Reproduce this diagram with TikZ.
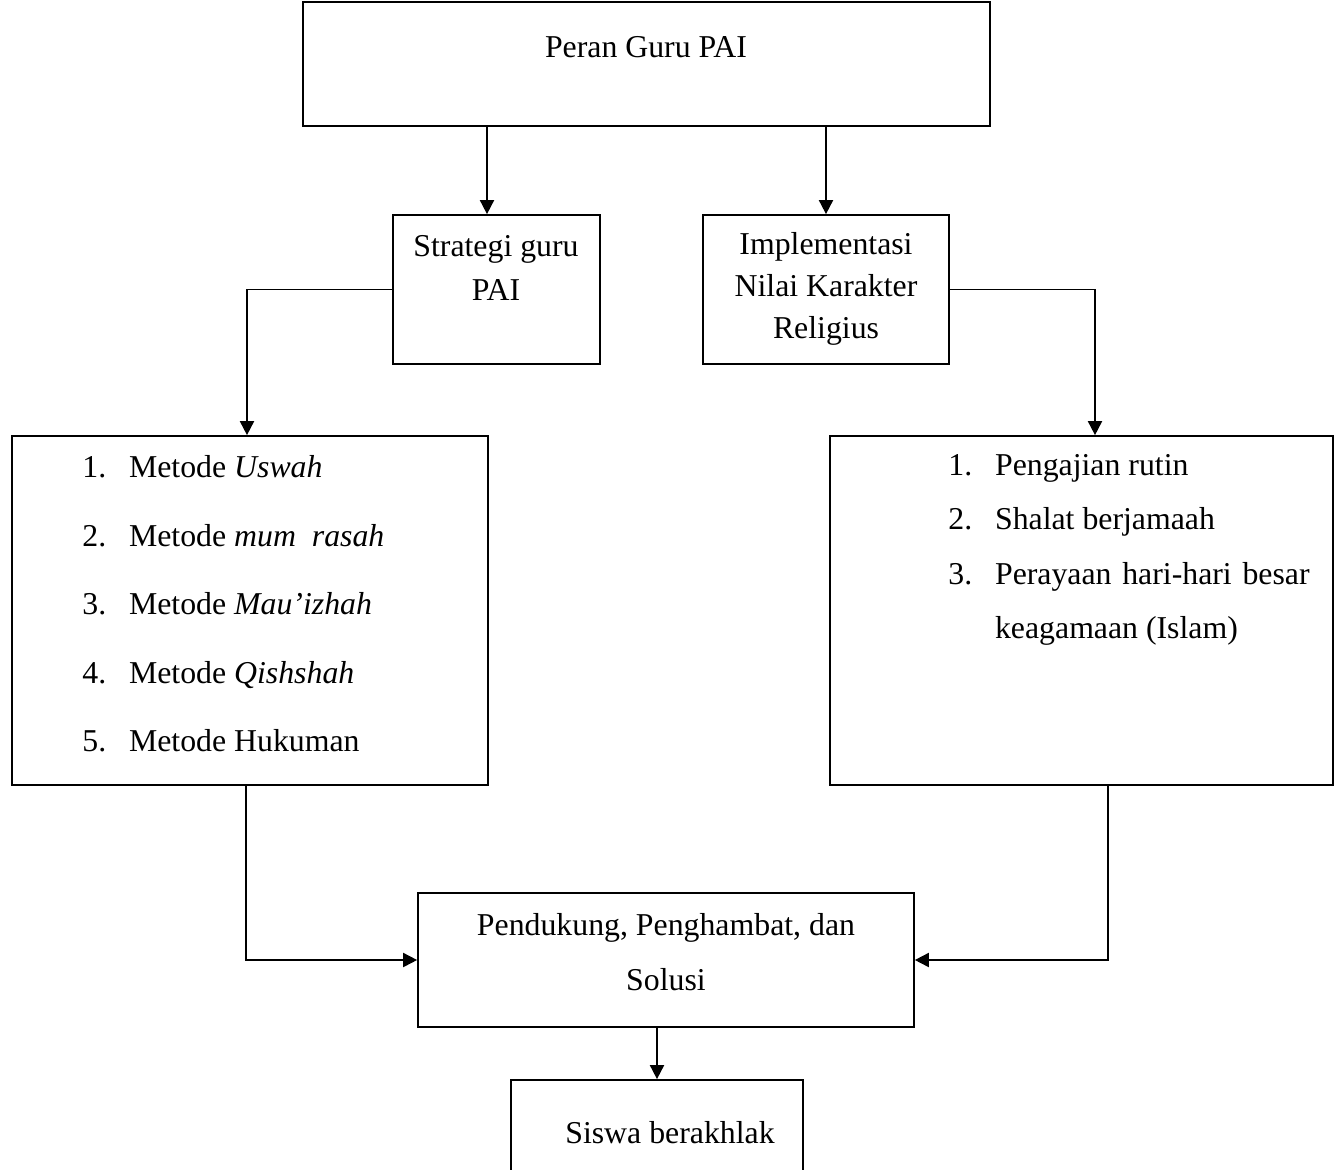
\documentclass[tikz,border=0pt]{standalone}
\usepackage{fontspec}
\setmainfont{Liberation Serif}
\usepackage{tikz}
\usetikzlibrary{arrows.meta,calc,positioning}

\begin{document}
\begin{tikzpicture}[x=0.02cm,y=-0.02cm,
	box/.style={draw,line width=1pt,inner sep=0pt},
	txt/.style={font=\fontsize{18.1}{#1}\selectfont,align=center,inner sep=0pt},
	arr/.style={line width=1pt,-{Triangle[length=8pt,width=8pt]}}]
	\clip (0,0) rectangle (1336,1170);
	\useasboundingbox (0,0) rectangle (1336,1170);
	% boxes
	\node[box,minimum width=13.74cm,minimum height=2.48cm] (peran) at (646.5,64) {};
	\node[box,minimum width=4.14cm,minimum height=2.98cm] (strat) at (496.5,289.5) {};
	\node[box,minimum width=4.92cm,minimum height=2.98cm] (impl) at (826,289.5) {};
	\node[box,minimum width=9.52cm,minimum height=6.98cm] (metode) at (250,610.5) {};
	\node[box,minimum width=10.06cm,minimum height=6.98cm] (kegiatan) at (1081.5,610.5) {};
	\node[box,minimum width=9.92cm,minimum height=2.68cm] (solusi) at (666,960) {};
	\node[box,minimum width=5.84cm,minimum height=2.2cm] (siswa) at (657,1135) {};
	% texts
	\node[txt=20] (peranT) at (646,47) {Peran Guru PAI};
	\node[txt=25] (stratT) at (496,268) {Strategi guru\\PAI};
	\node[txt=24] (implT) at (826,289) {Implementasi\\Nilai Karakter\\Religius};
	\node[txt=39,align=left,anchor=west] (metodeT) at (82,604) {%
		\makebox[26.6pt][l]{1.}Metode \textit{Uswah}\\
		\makebox[26.6pt][l]{2.}Metode \textit{mum\ \ rasah}\\
		\makebox[26.6pt][l]{3.}Metode \textit{Mau'izhah}\\
		\makebox[26.6pt][l]{4.}Metode \textit{Qishshah}\\
		\makebox[26.6pt][l]{5.}Metode Hukuman};
	\node[txt=31,align=left,anchor=west] (kegiatanT) at (948,550) {%
		\makebox[26.6pt][l]{1.}Pengajian rutin\\
		\makebox[26.6pt][l]{2.}Shalat berjamaah\\
		\makebox[26.6pt][l]{3.}\makebox[179pt][s]{Perayaan hari-hari besar}\\
		\hspace*{26.6pt}keagamaan (Islam)};
	\node[txt=31] (solusiT) at (666,952) {Pendukung, Penghambat, dan\\Solusi};
	\node[txt=20] (siswaT) at (670,1133) {Siswa berakhlak};
	% connectors
	\draw[arr] (peran.south -| 487,0) -- (strat.north -| 487,0);
	\draw[arr] (peran.south -| impl.north) -- (impl.north);
	\draw[arr] (strat.west) -| (metode.north -| 247,0);
	\draw[arr] (impl.east) -| (kegiatan.north -| 1095,0);
	\draw[arr] (metode.south -| 246,0) |- (solusi.west);
	\draw[arr] (kegiatan.south -| 1108,0) |- (solusi.east);
	\draw[arr] (solusi.south -| siswa.north) -- (siswa.north);
\end{tikzpicture}
\end{document}
